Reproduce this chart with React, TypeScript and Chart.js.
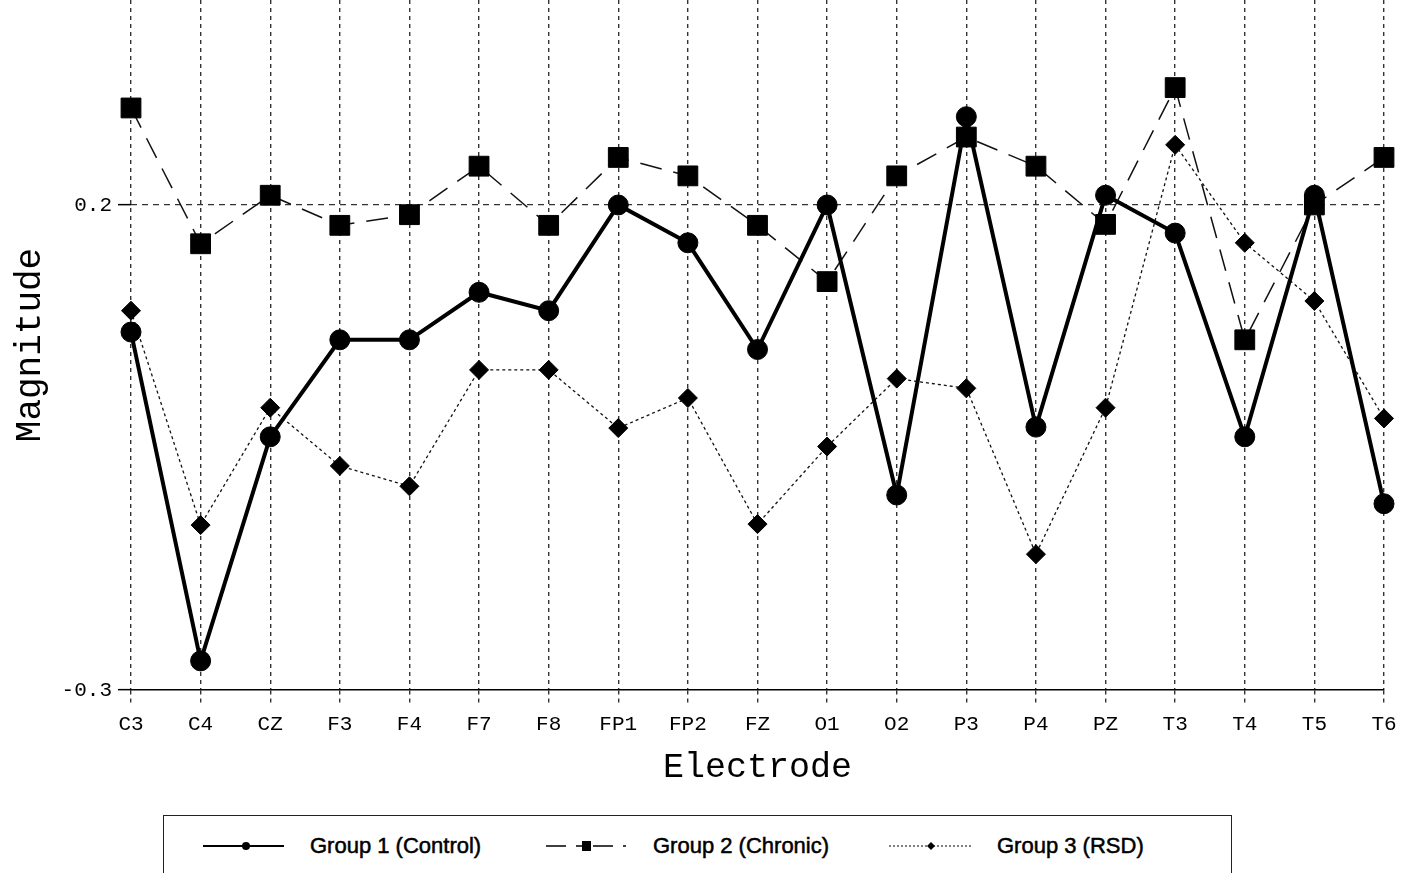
import React, { useEffect, useRef } from "react";
import { Chart, registerables } from "chart.js";

Chart.register(...registerables);

const electrodes = ["C3", "C4", "CZ", "F3", "F4", "F7", "F8", "FP1", "FP2", "FZ", "O1", "O2", "P3", "P4", "PZ", "T3", "T4", "T5", "T6"];
const group1Control = [0.069, -0.27, -0.039, 0.061, 0.061, 0.11, 0.091, 0.2, 0.161, 0.051, 0.2, -0.099, 0.291, -0.029, 0.21, 0.171, -0.039, 0.21, -0.108];
const group2Chronic = [0.3, 0.16, 0.21, 0.179, 0.19, 0.24, 0.179, 0.249, 0.23, 0.179, 0.121, 0.23, 0.27, 0.24, 0.18, 0.321, 0.061, 0.2, 0.249];
const group3RSD = [0.091, -0.13, -0.009, -0.069, -0.09, 0.03, 0.03, -0.03, 0.001, -0.129, -0.049, 0.021, 0.011, -0.16, -0.009, 0.262, 0.161, 0.101, -0.02];
const yTickValues = [-0.3, 0.2];
const yMin = -0.3;
const yMax = 0.4113;
const seriesNames = ["Group 1 (Control)", "Group 2 (Chronic)", "Group 3 (RSD)"];

const MONO = "'Liberation Mono', 'DejaVu Sans Mono', monospace";

export default function App() {
  const ref = useRef<HTMLCanvasElement | null>(null);

  useEffect(() => {
    document.body.style.margin = "0";
    const canvas = ref.current;
    if (!canvas) return;
    const chart = new Chart(canvas, {
      type: "line",
      data: {
        labels: electrodes,
        datasets: [
          {
            label: seriesNames[0],
            data: group1Control,
            borderColor: "#000",
            backgroundColor: "#000",
            borderWidth: 4,
            pointStyle: "circle",
            pointRadius: 10,
            pointBorderWidth: 1,
            pointBackgroundColor: "#000",
            pointBorderColor: "#000",
            tension: 0,
          },
          {
            label: seriesNames[1],
            data: group2Chronic,
            borderColor: "#111",
            backgroundColor: "#000",
            borderWidth: 1.5,
            borderDash: [22, 12],
            pointStyle: "rect",
            pointRadius: 14,
            pointBorderWidth: 1,
            pointBackgroundColor: "#000",
            pointBorderColor: "#000",
            tension: 0,
          },
          {
            label: seriesNames[2],
            data: group3RSD,
            borderColor: "#111",
            backgroundColor: "#000",
            borderWidth: 1.3,
            borderDash: [3, 3],
            pointStyle: "rectRot",
            pointRadius: 9.5,
            pointBorderWidth: 1,
            pointBackgroundColor: "#000",
            pointBorderColor: "#000",
            tension: 0,
          },
        ],
      },
      options: {
        animation: false,
        responsive: false,
        devicePixelRatio: 1,
        layout: { autoPadding: false, padding: { left: 0, right: 22, top: 0, bottom: 0 } },
        plugins: {
          legend: { display: false },
          tooltip: { enabled: false },
        },
        scales: {
          x: {
            type: "category",
            offset: false,
            border: { display: true, color: "#000", width: 1.5, dash: [4, 4] },
            grid: {
              color: "#333",
              lineWidth: 1.4,
              tickLength: 15,
              tickColor: "#333",
              tickBorderDash: [4, 4],
              tickWidth: 1.4,
            },
            ticks: {
              color: "#000",
              padding: 7,
              maxRotation: 0,
              autoSkip: false,
              font: { family: MONO, size: 21 },
            },
            title: {
              display: true,
              text: "Electrode",
              color: "#000",
              font: { family: MONO, size: 35 },
              padding: { top: 0, bottom: 11 },
            },
            afterFit: (scale: any) => {
              scale.height = 110;
              scale.paddingLeft = 0;
              scale.paddingRight = 0;
            },
          },
          y: {
            type: "linear",
            min: yMin,
            max: yMax,
            border: { display: false, dash: [6, 5] },
            afterBuildTicks: (scale: any) => {
              scale.ticks = yTickValues.map((v) => ({ value: v }));
            },
            grid: {
              color: (ctx: any) => (ctx.tick && Math.abs(ctx.tick.value - 0.2) < 1e-6 ? "#333" : "rgba(0,0,0,0)"),
              lineWidth: 1.3,
              tickLength: 13,
              tickColor: "#000",
              tickWidth: 1.5,
              tickBorderDash: [],
            },
            ticks: {
              color: "#000",
              padding: 6,
              font: { family: MONO, size: 21, lineHeight: 0.05 },
              callback: (v: any) => String(Number(v).toFixed(1)),
            },
            title: {
              display: true,
              text: "Magnitude",
              color: "#000",
              font: { family: MONO, size: 36 },
              padding: { top: 9, bottom: 0 },
            },
            afterFit: (scale: any) => {
              scale.width = 131;
              scale.paddingTop = 0;
              scale.paddingBottom = 0;
            },
          },
        },
      },
    });
    return () => chart.destroy();
  }, []);

  const textStyle: React.CSSProperties = {
    position: "absolute",
    top: 17,
    fontFamily: "'Liberation Sans', Arial, sans-serif",
    fontWeight: "normal",
    fontSize: 22,
    color: "#000",
    whiteSpace: "nowrap",
    lineHeight: "26px",
    WebkitTextStroke: "0.5px #000",
  };

  return (
    <div style={{ position: "absolute", left: 0, top: 0, width: 1406, height: 873, background: "#fff", overflow: "hidden" }}>
      <canvas ref={ref} width={1406} height={800} style={{ position: "absolute", left: 0, top: 0, width: 1406, height: 800 }} />
      <div
        style={{
          position: "absolute",
          left: 163,
          top: 815,
          width: 1069,
          height: 80,
          border: "1.5px solid #222",
          boxSizing: "border-box",
        }}
      >
        <svg width={1069} height={80} style={{ position: "absolute", left: 0, top: 0 }}>
          <line x1={39} y1={30} x2={120} y2={30} stroke="#000" strokeWidth={2.2} />
          <circle cx={82} cy={30} r={4} fill="#000" />
          <line x1={382} y1={30} x2={462} y2={30} stroke="#000" strokeWidth={1.3} strokeDasharray="20 10 7 10" />
          <rect x={418} y={25} width={9} height={10} fill="#000" />
          <line x1={725} y1={30} x2={807} y2={30} stroke="#000" strokeWidth={1} strokeDasharray="2 2" />
          <polygon points="767,26 771,30 767,34 763,30" fill="#000" />
        </svg>
        <div style={{ ...textStyle, left: 146 }}>{seriesNames[0]}</div>
        <div style={{ ...textStyle, left: 489 }}>{seriesNames[1]}</div>
        <div style={{ ...textStyle, left: 833 }}>{seriesNames[2]}</div>
      </div>
    </div>
  );
}
